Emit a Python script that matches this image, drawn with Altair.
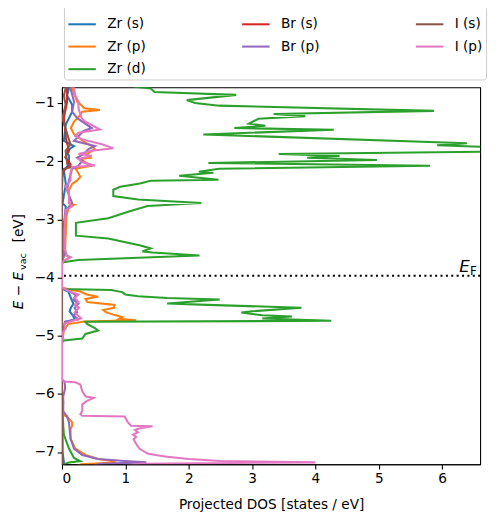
import altair as alt
import pandas as pd

# ---- data: (energy relative to vacuum [eV], projected DOS [states/eV]) ----
zr_s = [(-0.60, 0.09), (-0.75, 0.11), (-0.87, 0.08), (-1.03, 0.16), (-1.15, 0.16), (-1.26, 0.11),
        (-1.37, 0.06), (-1.65, 0.03), (-1.74, 0.19), (-1.82, 0.08), (-1.91, 0.11), (-2.05, 0.11),
        (-2.16, 0.03), (-2.39, 0.06), (-2.72, 0.01), (-2.78, 0.06), (-3.20, 0.02), (-3.62, 0.03),
        (-3.71, 0.01), (-3.76, 0.0), (-4.17, 0.0), (-4.20, 0.02), (-4.24, 0.10), (-4.35, 0.14),
        (-4.45, 0.18), (-4.52, 0.14), (-4.58, 0.12), (-4.65, 0.17), (-4.72, 0.20), (-4.76, 0.05),
        (-4.90, 0.01), (-5.10, 0.0), (-6.00, 0.0), (-6.40, 0.01), (-7.00, 0.01), (-7.18, 0.03),
        (-7.30, 0.01)]

zr_p = [(-0.60, 0.12), (-0.75, 0.16), (-0.98, 0.24), (-1.03, 0.30), (-1.09, 0.35), (-1.12, 0.60),
        (-1.15, 0.32), (-1.23, 0.27), (-1.32, 0.19), (-1.43, 0.14), (-1.54, 0.19), (-1.68, 0.37),
        (-1.74, 0.47), (-1.79, 0.52), (-1.88, 0.39), (-1.94, 0.45), (-1.96, 0.29), (-2.08, 0.45),
        (-2.13, 0.21), (-2.19, 0.25), (-2.27, 0.29), (-2.33, 0.24), (-2.39, 0.16), (-2.50, 0.11),
        (-2.72, 0.11), (-2.75, 0.19), (-2.78, 0.11), (-2.95, 0.07), (-3.23, 0.06), (-3.51, 0.05),
        (-3.62, 0.06), (-3.65, 0.13), (-3.71, 0.03), (-3.76, 0.0), (-4.17, 0.0), (-4.20, 0.10),
        (-4.24, 0.29), (-4.29, 0.39), (-4.33, 0.57), (-4.37, 0.37), (-4.42, 0.40), (-4.47, 0.83),
        (-4.52, 0.82), (-4.56, 0.65), (-4.60, 0.70), (-4.65, 0.85), (-4.68, 0.95), (-4.71, 0.90),
        (-4.735, 1.17), (-4.755, 0.35), (-4.80, 0.10), (-4.90, 0.03), (-5.05, 0.01), (-5.10, 0.0),
        (-6.35, 0.0), (-6.39, 0.08), (-6.49, 0.16), (-6.55, 0.16), (-6.60, 0.135), (-6.77, 0.135),
        (-6.94, 0.21), (-7.05, 0.37), (-7.12, 0.57), (-7.155, 0.78), (-7.18, 0.85), (-7.21, 0.30),
        (-7.30, 0.10)]

zr_d = [(-0.60, 0.90), (-0.72, 1.15), (-0.75, 1.40), (-0.81, 1.46), (-0.86, 2.75), (-0.95, 1.97),
        (-1.00, 2.10), (-1.045, 2.48), (-1.135, 5.87), (-1.19, 3.34), (-1.225, 3.84), (-1.27, 3.10),
        (-1.355, 2.95), (-1.39, 3.21), (-1.43, 2.72), (-1.46, 4.29), (-1.54, 2.23), (-1.69, 6.39),
        (-1.725, 5.92), (-1.753, 6.60), (-1.775, 7.20), (-1.80, 7.00), (-1.826, 7.50), (-1.876, 3.42),
        (-1.91, 4.38), (-1.94, 3.87), (-1.98, 4.97), (-2.03, 2.31), (-2.08, 5.81), (-2.13, 2.48),
        (-2.18, 2.16), (-2.20, 2.39), (-2.25, 1.85), (-2.32, 2.47), (-2.335, 1.40), (-2.385, 1.23),
        (-2.44, 0.92), (-2.49, 0.81), (-2.60, 0.81), (-2.66, 1.20), (-2.72, 2.20), (-2.77, 1.35),
        (-2.86, 1.07), (-2.98, 0.73), (-3.06, 0.22), (-3.28, 0.22), (-3.33, 0.73), (-3.45, 1.24),
        (-3.50, 1.40), (-3.55, 1.27), (-3.57, 1.43), (-3.62, 2.17), (-3.67, 0.99), (-3.70, 0.26),
        (-3.74, 0.0), (-4.17, 0.0), (-4.198, 0.01), (-4.215, 0.78), (-4.25, 0.95), (-4.29, 1.00),
        (-4.32, 1.20), (-4.35, 1.66), (-4.378, 2.49), (-4.446, 1.66), (-4.47, 2.30), (-4.52, 3.78),
        (-4.58, 3.00), (-4.60, 2.83), (-4.649, 3.16), (-4.67, 3.63), (-4.705, 3.16), (-4.744, 4.25),
        (-4.76, 0.37), (-4.80, 0.40), (-4.87, 0.52), (-4.91, 0.57), (-4.97, 0.37), (-5.05, 0.32),
        (-5.08, 0.03), (-5.12, 0.0), (-6.05, 0.0), (-6.15, 0.02), (-6.25, 0.0), (-6.70, 0.03),
        (-6.94, 0.11), (-7.10, 0.19), (-7.155, 0.29), (-7.18, 0.11), (-7.20, 0.05), (-7.30, 0.02)]

br_s = [(-0.60, 0.07), (-0.75, 0.08), (-0.98, 0.08), (-1.26, 0.03), (-1.54, 0.06), (-1.60, 0.06),
        (-1.82, 0.11), (-1.93, 0.05), (-2.05, 0.135), (-2.16, 0.03), (-2.27, 0.005), (-2.50, 0.0),
        (-7.15, 0.0), (-7.20, 0.02), (-7.30, 0.01)]

br_p = [(-0.60, 0.12), (-0.75, 0.135), (-0.98, 0.19), (-1.15, 0.16), (-1.26, 0.24), (-1.43, 0.47),
        (-1.48, 0.34), (-1.65, 0.19), (-1.74, 0.52), (-1.79, 0.42), (-1.88, 0.34), (-1.94, 0.24),
        (-1.99, 0.32), (-2.08, 0.26), (-2.13, 0.16), (-2.33, 0.11), (-2.50, 0.08), (-2.72, 0.16),
        (-2.84, 0.06), (-3.23, 0.03), (-3.60, 0.03), (-3.76, 0.0), (-4.17, 0.0), (-4.20, 0.03),
        (-4.25, 0.14), (-4.30, 0.22), (-4.38, 0.18), (-4.45, 0.26), (-4.52, 0.20), (-4.60, 0.24),
        (-4.65, 0.18), (-4.72, 0.26), (-4.76, 0.05), (-4.85, 0.02), (-5.10, 0.0), (-5.75, 0.0),
        (-5.79, 0.04), (-5.90, 0.05), (-6.04, 0.02), (-6.30, 0.02), (-6.39, 0.08), (-6.49, 0.11),
        (-6.77, 0.135), (-6.94, 0.19), (-7.05, 0.32), (-7.12, 0.57), (-7.155, 0.99), (-7.177, 1.33),
        (-7.20, 0.60), (-7.30, 0.30)]

i_s = [(-0.60, 0.05), (-0.75, 0.057), (-0.87, 0.03), (-1.03, 0.057), (-1.26, 0.005), (-1.63, 0.11),
       (-1.71, 0.135), (-1.82, 0.057), (-2.05, 0.083), (-2.10, 0.16), (-2.13, 0.03), (-2.22, 0.005),
       (-2.40, 0.0), (-7.15, 0.0), (-7.20, 0.02), (-7.30, 0.01)]

i_p = [(-0.60, 0.17), (-0.75, 0.19), (-0.87, 0.21), (-0.98, 0.26), (-1.09, 0.26), (-1.26, 0.31),
       (-1.32, 0.37), (-1.456, 0.60), (-1.51, 0.26), (-1.57, 0.21), (-1.625, 0.32), (-1.71, 0.63),
       (-1.777, 0.81), (-1.822, 0.47), (-1.878, 0.26), (-1.907, 0.47), (-1.963, 0.26), (-2.02, 0.32),
       (-2.075, 0.52), (-2.10, 0.16), (-2.19, 0.135), (-2.33, 0.135), (-2.44, 0.057), (-2.55, 0.11),
       (-2.72, 0.11), (-2.78, 0.16), (-2.84, 0.057), (-3.23, 0.04), (-3.51, 0.04), (-3.62, 0.08),
       (-3.65, 0.135), (-3.71, 0.03), (-3.76, 0.0), (-4.17, 0.0), (-4.20, 0.05), (-4.24, 0.12),
       (-4.29, 0.26), (-4.35, 0.20), (-4.42, 0.26), (-4.47, 0.20), (-4.52, 0.27), (-4.60, 0.20),
       (-4.70, 0.30), (-4.76, 0.12), (-4.80, 0.03), (-4.87, 0.06), (-4.95, 0.01), (-5.05, 0.02),
       (-5.10, 0.0), (-5.75, 0.0), (-5.786, 0.03), (-5.80, 0.21), (-5.84, 0.29), (-5.955, 0.32),
       (-6.04, 0.37), (-6.07, 0.50), (-6.124, 0.39), (-6.18, 0.32), (-6.29, 0.32), (-6.35, 0.29),
       (-6.377, 0.32), (-6.389, 0.99), (-6.45, 1.02), (-6.49, 1.04), (-6.546, 1.09), (-6.557, 1.43),
       (-6.60, 1.20), (-6.62, 1.15), (-6.66, 1.20), (-6.70, 1.12), (-6.74, 1.17), (-6.78, 1.13),
       (-6.856, 1.17), (-6.94, 1.22), (-7.025, 1.35), (-7.053, 1.50), (-7.08, 1.66), (-7.12, 2.00),
       (-7.154, 2.50), (-7.177, 4.00), (-7.20, 1.25), (-7.30, 0.50)]

# drawing order (matplotlib plot order)
series_names = ["Zr (s)", "Zr (p)", "Zr (d)", "Br (s)", "Br (p)", "I (s)", "I (p)"]
series_data = [zr_s, zr_p, zr_d, br_s, br_p, i_s, i_p]
# legend order: filled row by row in 3 columns, reproducing matplotlib's column-major layout
legend_order = ["Zr (s)", "Br (s)", "I (s)", "Zr (p)", "Br (p)", "I (p)", "Zr (d)"]
legend_colors = ["#1f77b4", "#d62728", "#8c564b", "#ff7f0e", "#9467bd", "#e377c2", "#2ca02c"]

fermi_level = -3.97
x_ticks = [0, 1, 2, 3, 4, 5, 6]
y_ticks = [-7, -6, -5, -4, -3, -2, -1]
x_domain = [0, 6.60]
y_domain = [-7.21, -0.73]

rows = []
for name, pts in zip(series_names, series_data):
    for k, (e, d) in enumerate(pts):
        rows.append({"series": name, "E": e, "dos": d, "i": k})
df = pd.DataFrame(rows)

FONT = "DejaVu Sans"

x_scale = alt.Scale(domain=x_domain, nice=False, zero=False)
y_scale = alt.Scale(domain=y_domain, nice=False, zero=False)

lines = alt.Chart(df).mark_line(clip=True, strokeWidth=2.08).encode(
    x=alt.X("dos:Q", scale=x_scale,
            axis=alt.Axis(title="Projected DOS [states / eV]", values=x_ticks, format="d")),
    y=alt.Y("E:Q", scale=y_scale, axis=alt.Axis(title=None, values=y_ticks, format="d")),
    color=alt.Color("series:N",
                    scale=alt.Scale(domain=legend_order, range=legend_colors),
                    legend=alt.Legend(
                        title=None, orient="none", direction="horizontal",
                        legendX=2, legendY=-83, columns=3, gridAlign="all",
                        symbolType="stroke", symbolSize=784, symbolStrokeWidth=2.08,
                        labelFontSize=13.9, labelFont=FONT, labelColor="black",
                        labelOffset=10, columnPadding=93, rowPadding=-4.2, padding=3,
                        strokeColor="#cccccc", fillColor="white", cornerRadius=3)),
    order=alt.Order("i:Q"),
    detail="series:N",
)

fermi_df = pd.DataFrame({"E": [fermi_level]})
fermi = alt.Chart(fermi_df).mark_rule(color="black", strokeWidth=2.08, strokeDash=[2.08, 3.4]).encode(
    y=alt.Y("E:Q", scale=y_scale)
)

ef_df = pd.DataFrame({"dos": [6.27], "E": [-3.90]})
ef_e = alt.Chart(ef_df).mark_text(text="E", font=FONT, fontStyle="italic", fontSize=17,
                                  align="left", baseline="alphabetic", color="black").encode(
    x=alt.X("dos:Q", scale=x_scale), y=alt.Y("E:Q", scale=y_scale))
ef_f = alt.Chart(ef_df).mark_text(text="F", font=FONT, fontSize=12, dx=11, dy=3,
                                  align="left", baseline="alphabetic", color="black").encode(
    x=alt.X("dos:Q", scale=x_scale), y=alt.Y("E:Q", scale=y_scale))

one = pd.DataFrame({"k": [0]})
yt1 = alt.Chart(one).mark_text(text="E − E", font=FONT, fontStyle="italic", fontSize=13.9, angle=270,
                               align="left", baseline="alphabetic", color="black").encode(
    x=alt.value(-40), y=alt.value(226))
yt2 = alt.Chart(one).mark_text(text="vac", font=FONT, fontSize=9.7, angle=270,
                               align="left", baseline="alphabetic", color="black").encode(
    x=alt.value(-37), y=alt.value(186))
yt3 = alt.Chart(one).mark_text(text="[eV]", font=FONT, fontSize=13.9, angle=270,
                               align="left", baseline="alphabetic", color="black").encode(
    x=alt.value(-40), y=alt.value(158))

chart = alt.layer(lines, fermi, ef_e, ef_f, yt1, yt2, yt3).properties(
    width=426, height=384,
    autosize=alt.AutoSizeParams(type="none"),
    padding={"left": 55, "top": 76, "right": 10, "bottom": 54},
).configure_view(
    stroke="black", strokeWidth=1.1
).configure_axis(
    labelFont=FONT, titleFont=FONT, labelFontSize=13.9, titleFontSize=13.9,
    titleFontWeight="normal", labelColor="black", titleColor="black",
    tickColor="black", domainColor="black", tickSize=4.9, tickWidth=1.1, domainWidth=1.1,
    labelPadding=3, titlePadding=12, grid=False
)

chart.save("out.html", embed_options={"renderer": "svg", "actions": False})
